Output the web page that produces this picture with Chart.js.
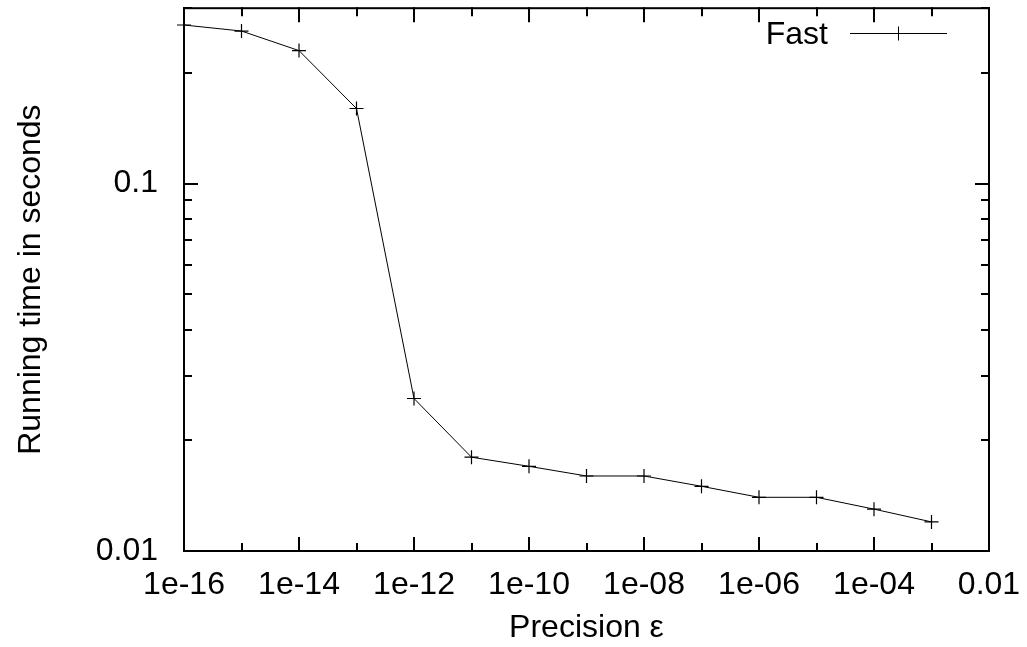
<!DOCTYPE html>
<html>
<head>
<meta charset="utf-8">
<script src="https://cdn.jsdelivr.net/npm/chart.js@4.4.1/dist/chart.umd.min.js"></script>
<style>
  body { margin: 0; background: #fff; }
  #wrap { width: 1027px; height: 647px; position: relative; }
</style>
</head>
<body>
<div id="wrap"><canvas id="myChart"></canvas></div>
<script>
// data
var precision = [1e-16, 1e-15, 1e-14, 1e-13, 1e-12, 1e-11, 1e-10, 1e-9, 1e-8, 1e-7, 1e-6, 1e-5, 1e-4, 1e-3];
var runtimeFast = [0.27, 0.26, 0.23, 0.16, 0.026, 0.018, 0.017, 0.016, 0.016, 0.015, 0.014, 0.014, 0.013, 0.012];

var xTicks = [1e-16, 1e-15, 1e-14, 1e-13, 1e-12, 1e-11, 1e-10, 1e-9, 1e-8, 1e-7, 1e-6, 1e-5, 1e-4, 1e-3, 1e-2];
var xTickLabels = ['1e-16', '', '1e-14', '', '1e-12', '', '1e-10', '', '1e-08', '', '1e-06', '', '1e-04', '', '0.01'];
var yTicks = [0.01, 0.02, 0.03, 0.04, 0.05, 0.06, 0.07, 0.08, 0.09, 0.1, 0.2, 0.3];
var yTickLabels = ['0.01', '', '', '', '', '', '', '', '', '0.1', '', ''];

var FONT = 'Liberation Sans, Arial, Helvetica, sans-serif';
var FSIZE = 32;

var points = [];
for (var i = 0; i < precision.length; i++) {
    points.push({ x: precision[i], y: runtimeFast[i] });
}

// box round the plot, inward ticks on all four sides, and the key
var framePlugin = {
    id: 'frame',
    afterDraw: function(chart) {
        var ctx = chart.ctx;
        var a = chart.chartArea;
        var xs = chart.scales.x, ys = chart.scales.y;
        ctx.save();
        ctx.strokeStyle = '#000';
        ctx.lineWidth = 2;
        ctx.lineCap = 'square';

        ctx.beginPath();
        for (var i = 0; i < xTicks.length; i++) {
            var px = Math.round(xs.getPixelForValue(xTicks[i]));
            var len = xTickLabels[i] ? 13 : 7;
            ctx.moveTo(px, a.bottom); ctx.lineTo(px, a.bottom - len);
            ctx.moveTo(px, a.top); ctx.lineTo(px, a.top + len);
        }
        for (var j = 0; j < yTicks.length; j++) {
            var py = Math.round(ys.getPixelForValue(yTicks[j]));
            var l2 = yTickLabels[j] ? 13 : 7;
            ctx.moveTo(a.left, py); ctx.lineTo(a.left + l2, py);
            ctx.moveTo(a.right, py); ctx.lineTo(a.right - l2, py);
        }
        ctx.stroke();
        ctx.strokeRect(a.left, a.top, a.right - a.left, a.bottom - a.top);

        // key: label, then line sample with marker
        var ds = chart.data.datasets[0];
        ctx.fillStyle = '#000';
        ctx.font = FSIZE + 'px ' + FONT;
        ctx.textAlign = 'right';
        ctx.textBaseline = 'alphabetic';
        ctx.fillText(ds.label, 828, 44);
        ctx.lineWidth = 1;
        ctx.lineCap = 'butt';
        ctx.beginPath();
        ctx.moveTo(850, 33.5); ctx.lineTo(947, 33.5);
        ctx.moveTo(891.5, 33.5); ctx.lineTo(905.5, 33.5);
        ctx.moveTo(898.5, 26.5); ctx.lineTo(898.5, 40.5);
        ctx.stroke();
        ctx.restore();
    }
};

var ctx = document.getElementById('myChart').getContext('2d');
var myChart = new Chart(ctx, {
    type: 'scatter',
    data: {
        datasets: [{
            label: 'Fast',
            data: points,
            showLine: true,
            borderColor: '#000',
            backgroundColor: '#000',
            borderWidth: 1,
            pointStyle: 'cross',
            pointRadius: 7,
            pointBorderWidth: 1.2,
            pointBorderColor: '#000',
            tension: 0,
            clip: false
        }]
    },
    options: {
        responsive: true,
        maintainAspectRatio: false,
        animation: false,
        layout: { padding: { left: 0, right: 38, top: 3, bottom: 0 } },
        plugins: {
            legend: { display: false },
            tooltip: { enabled: false }
        },
        scales: {
            x: {
                type: 'logarithmic',
                min: 1e-16,
                max: 1e-2,
                grid: { display: false, drawTicks: false },
                border: { display: false },
                afterBuildTicks: function(scale) {
                    scale.ticks = xTicks.map(function(v) { return { value: v }; });
                },
                afterFit: function(scale) {
                    scale.height = 96;
                    scale.paddingLeft = 0;
                    scale.paddingRight = 0;
                },
                ticks: {
                    autoSkip: false,
                    maxRotation: 0,
                    padding: 15,
                    color: '#000',
                    font: { family: FONT, size: FSIZE },
                    callback: function(value, index) { return xTickLabels[index]; }
                },
                title: {
                    display: true,
                    text: 'Precision ε',
                    color: '#000',
                    font: { family: FONT, size: FSIZE },
                    padding: { top: 0, bottom: 0 }
                }
            },
            y: {
                type: 'logarithmic',
                min: 0.01,
                max: 0.3,
                grid: { display: false, drawTicks: false },
                border: { display: false },
                afterBuildTicks: function(scale) {
                    scale.ticks = yTicks.map(function(v) { return { value: v }; });
                },
                afterFit: function(scale) {
                    scale.width = 184;
                    scale.paddingTop = 0;
                    scale.paddingBottom = 0;
                },
                ticks: {
                    autoSkip: false,
                    padding: 26,
                    color: '#000',
                    font: { family: FONT, size: FSIZE },
                    callback: function(value, index) { return yTickLabels[index]; }
                },
                title: {
                    display: true,
                    text: 'Running time in seconds',
                    color: '#000',
                    font: { family: FONT, size: FSIZE },
                    padding: { top: 12, bottom: 0 }
                }
            }
        }
    },
    plugins: [framePlugin]
});
</script>
</body>
</html>
